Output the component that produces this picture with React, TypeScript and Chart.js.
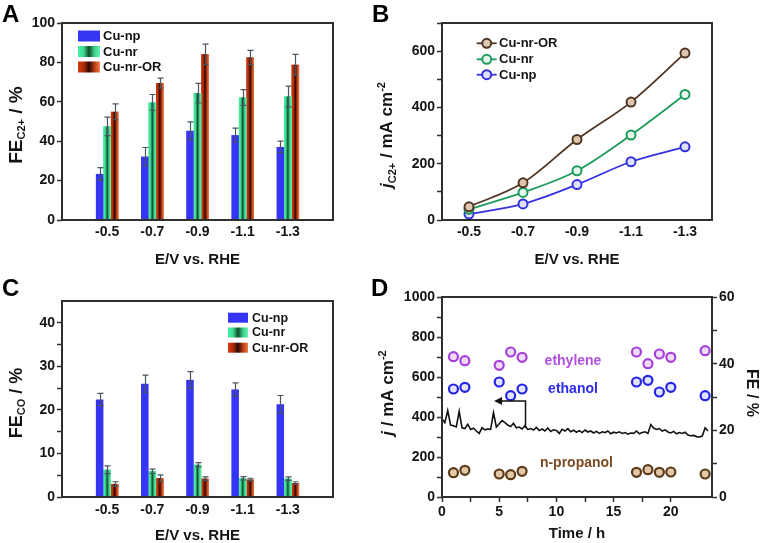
import React, { useEffect, useRef } from 'react';
import { Chart, registerables } from 'chart.js';

Chart.register(...registerables);

const FONT = '"Liberation Sans", Arial, Helvetica, sans-serif';
Chart.defaults.font.family = FONT;
Chart.defaults.color = '#141414';

const INK = '#141414';
const FRAME = '#2f2f2f';

// ---------- shared ----------
const seriesNames = ['Cu-np', 'Cu-nr', 'Cu-nr-OR'];
const potentials = ['-0.5', '-0.7', '-0.9', '-1.1', '-1.3'];
const barCategories = ['-0.3', '-0.5', '-0.7', '-0.9', '-1.1', '-1.3', '-1.5'];

// ---------- Panel A : FE C2+ ----------
const feC2Np = [23.4, 32.2, 45.3, 43.1, 37.1];
const feC2NpErr = [3.2, 4.6, 4.5, 3.5, 2.9];
const feC2Nr = [47.5, 59.7, 64.4, 62.2, 62.7];
const feC2NrErr = [4.7, 4.0, 5.0, 4.0, 5.3];
const feC2Or = [54.9, 69.5, 84.1, 82.5, 78.8];
const feC2OrErr = [4.0, 2.5, 5.2, 3.6, 5.3];

// ---------- Panel B : j C2+ ----------
const jC2Or = [47, 132, 286, 419, 593];
const jC2Nr = [38, 98, 175, 302, 446];
const jC2Np = [21, 57, 126, 207, 260];

// ---------- Panel C : FE CO ----------
const feCoNp = [22.4, 26.0, 26.9, 24.7, 21.3];
const feCoNpErr = [1.4, 2.0, 1.9, 1.5, 2.0];
const feCoNr = [6.25, 5.9, 7.4, 4.3, 4.2];
const feCoNrErr = [0.9, 0.5, 0.5, 0.4, 0.4];
const feCoOr = [3.0, 4.3, 4.2, 4.0, 3.2];
const feCoOrErr = [0.5, 0.8, 0.4, 0.3, 0.3];

// ---------- Panel D : stability ----------
const stabilityHours = [
  0, 0.25, 0.5, 0.75, 1, 1.25, 1.5, 1.75, 2, 2.25,
  2.5, 2.75, 3, 3.25, 3.5, 3.75, 4, 4.25, 4.5, 4.75,
  5, 5.25, 5.5, 5.75, 6, 6.25, 6.5, 6.75, 7, 7.25,
  7.5, 7.75, 8, 8.25, 8.5, 8.75, 9, 9.25, 9.5, 9.75,
  10, 10.25, 10.5, 10.75, 11, 11.25, 11.5, 11.75, 12, 12.25,
  12.5, 12.75, 13, 13.25, 13.5, 13.75, 14, 14.25, 14.5, 14.75,
  15, 15.25, 15.5, 15.75, 16, 16.25, 16.5, 16.75, 17, 17.25,
  17.5, 17.75, 18, 18.25, 18.5, 18.75, 19, 19.25, 19.5, 19.75,
  20, 20.25, 20.5, 20.75, 21, 21.25, 21.5, 21.75, 22, 22.25,
  22.5, 22.75, 23, 23.25,
];
const stabilityCurrent = [
  392, 372, 432, 360, 356, 350, 428, 346, 342, 364,
  338, 344, 330, 318, 346, 336, 340, 338, 422, 350,
  366, 382, 372, 360, 352, 368, 346, 350, 340, 356,
  338, 342, 335, 348, 332, 340, 330, 345, 328, 336,
  333, 318, 338, 330, 342, 326, 334, 324, 332, 322,
  335, 325, 330, 320, 328, 318, 326, 322, 330, 316,
  324, 320, 326, 318, 322, 314, 320, 318, 330, 316,
  322, 326, 318, 362, 345, 338, 342, 330, 336, 325,
  320, 328, 316, 322, 318, 324, 310, 306, 308, 302,
  300, 305, 346, 330,
];
const sampleHours = [1, 2, 5, 6, 7, 17, 18, 19, 20, 23];
const feEthylene = [42.1, 40.9, 39.5, 43.5, 41.9, 43.5, 40.0, 42.9, 41.9, 43.9];
const feEthanol = [32.4, 32.9, 34.5, 30.4, 32.4, 34.5, 35.0, 31.5, 32.9, 30.4];
const feNPropanol = [7.3, 8.0, 6.9, 6.7, 7.7, 7.4, 8.2, 7.4, 7.5, 6.9];
const productNames = ['ethylene', 'ethanol', 'n-propanol'];

// ---------- styles ----------
const NP_BLUE = '#3535f3';
const NR_STOPS = ['#48f0a4', '#3cdc92', '#124a2a', '#3cd08c', '#64f6b2'];
const OR_STOPS = ['#d03c10', '#b02c08', '#2a0804', '#b83a12', '#f28048'];
const barFills: (string | string[])[] = [NP_BLUE, NR_STOPS, OR_STOPS];

type Part = { t: string; size?: number; dy?: number; italic?: boolean };

function drawRich(
  ctx: CanvasRenderingContext2D,
  parts: Part[],
  x: number,
  y: number,
  rot: number,
  base: number,
  color = INK
) {
  ctx.save();
  ctx.translate(x, y);
  ctx.rotate(rot);
  ctx.fillStyle = color;
  ctx.textBaseline = 'alphabetic';
  ctx.textAlign = 'left';
  const fontOf = (p: Part) => `${p.italic ? 'italic ' : ''}bold ${p.size ?? base}px ${FONT}`;
  let w = 0;
  for (const p of parts) {
    ctx.font = fontOf(p);
    w += ctx.measureText(p.t).width;
  }
  let cx = -w / 2;
  for (const p of parts) {
    ctx.font = fontOf(p);
    ctx.fillText(p.t, cx, p.dy ?? 0);
    cx += ctx.measureText(p.t).width;
  }
  ctx.restore();
}

function drawLetter(ctx: CanvasRenderingContext2D, t: string, x: number, y: number) {
  ctx.save();
  ctx.font = `bold 24px ${FONT}`;
  ctx.fillStyle = '#000';
  ctx.textBaseline = 'alphabetic';
  ctx.textAlign = 'left';
  ctx.fillText(t, x, y);
  ctx.restore();
}

function drawFrame(chart: Chart) {
  const { ctx, chartArea: a } = chart;
  ctx.save();
  ctx.strokeStyle = FRAME;
  ctx.lineWidth = 2;
  ctx.strokeRect(a.left, a.top, a.right - a.left, a.bottom - a.top);
  ctx.restore();
}

function fillBox(ctx: CanvasRenderingContext2D, x: number, y: number, w: number, h: number, style: string | string[]) {
  if (Array.isArray(style)) {
    const g = ctx.createLinearGradient(x, 0, x + w, 0);
    style.forEach((c, k) => g.addColorStop(k / (style.length - 1), c));
    ctx.fillStyle = g;
  } else {
    ctx.fillStyle = style;
  }
  ctx.fillRect(x, y, w, h);
}

function drawLegendText(ctx: CanvasRenderingContext2D, t: string, x: number, y: number, size = 13) {
  ctx.save();
  ctx.font = `bold ${size}px ${FONT}`;
  ctx.fillStyle = INK;
  ctx.textBaseline = 'middle';
  ctx.textAlign = 'left';
  ctx.fillText(t, x, y);
  ctx.restore();
}

const tickFont = (size = 14) => ({ size, weight: 'bold' as const, family: FONT });
const majorOnly = (major: number) => (v: any) => {
  const n = Number(v);
  return Math.abs(n / major - Math.round(n / major)) < 1e-6 ? String(n) : '';
};
const pad = (arr: number[]) => [null, ...arr, null];

const gradientBars = {
  id: 'gradientBars',
  afterDatasetDraw(chart: any, args: any) {
    const ds = chart.data.datasets[args.index];
    if (!ds.gradientStops) return;
    const ctx = chart.ctx as CanvasRenderingContext2D;
    ctx.save();
    args.meta.data.forEach((el: any, i: number) => {
      if (ds.data[i] == null) return;
      const { x, y, base, width } = el.getProps(['x', 'y', 'base', 'width'], true);
      fillBox(ctx, x - width / 2, Math.min(y, base), width, Math.abs(base - y), ds.gradientStops);
    });
    ctx.restore();
  },
};

const errorBars = {
  id: 'errorBars',
  afterDatasetsDraw(chart: any) {
    const ctx = chart.ctx as CanvasRenderingContext2D;
    const ys = chart.scales.y;
    chart.data.datasets.forEach((ds: any, di: number) => {
      if (!ds.errors) return;
      const meta = chart.getDatasetMeta(di);
      meta.data.forEach((el: any, i: number) => {
        const v = ds.data[i];
        const e = ds.errors[i];
        if (v == null || e == null) return;
        const x = Math.round(el.x) + 0.5;
        const yt = ys.getPixelForValue(v + e);
        const yb = ys.getPixelForValue(v - e);
        ctx.save();
        ctx.strokeStyle = '#4b5560';
        ctx.lineWidth = 1.2;
        ctx.beginPath();
        ctx.moveTo(x, yt);
        ctx.lineTo(x, yb);
        ctx.moveTo(x - 3, yt);
        ctx.lineTo(x + 3, yt);
        ctx.moveTo(x - 3, yb);
        ctx.lineTo(x + 3, yb);
        ctx.stroke();
        ctx.restore();
      });
    });
  },
};

function makeBarChart(
  canvas: HTMLCanvasElement,
  series: { data: number[]; err: number[] }[],
  yMax: number,
  minor: number,
  major: number,
  yLabelMax: number,
  yTop: number,
  xHeight: number,
  xPad: number,
  decor: (chart: Chart) => void
) {
  return new Chart(canvas, {
    type: 'bar',
    data: {
      labels: barCategories,
      datasets: series.map((s, k) => ({
        label: seriesNames[k],
        data: pad(s.data),
        errors: pad(s.err),
        gradientStops: Array.isArray(barFills[k]) ? barFills[k] : undefined,
        backgroundColor: Array.isArray(barFills[k]) ? (barFills[k] as string[])[1] : (barFills[k] as string),
        borderWidth: 0,
        categoryPercentage: 0.5,
        barPercentage: 1,
      })) as any,
    },
    options: {
      responsive: false,
      animation: false,
      events: [],
      layout: { padding: { left: 0, right: 35, top: yTop, bottom: 0 } },
      plugins: { legend: { display: false }, tooltip: { enabled: false } },
      scales: {
        x: {
          offset: false,
          grid: { display: false, drawTicks: false, offset: false },
          border: { display: false },
          ticks: {
            autoSkip: false,
            maxRotation: 0,
            padding: xPad,
            font: tickFont(14),
            color: INK,
            callback: (_v: any, i: number) =>
              potentials.includes(barCategories[i]) ? barCategories[i] : '',
          },
          afterFit: (s: any) => {
            s.height = xHeight;
          },
        },
        y: {
          min: 0,
          max: yMax,
          grid: { drawOnChartArea: false, tickLength: 5, tickColor: FRAME, tickWidth: 1.5 },
          border: { display: false },
          ticks: { stepSize: minor, padding: 2, font: tickFont(14), color: INK, callback: majorOnly(major) },
          afterBuildTicks: (s: any) => {
            s.ticks = s.ticks.filter((t: any) => t.value <= yLabelMax + 1e-6);
          },
          afterFit: (s: any) => {
            s.width = 62;
          },
        },
      } as any,
    },
    plugins: [gradientBars, errorBars, { id: 'decor', afterDraw: decor }],
  });
}

function barLegend(ctx: CanvasRenderingContext2D, x: number, rows: number[], w: number, h: number, textX: number, size: number) {
  seriesNames.forEach((name, k) => {
    fillBox(ctx, x, rows[k] - h / 2, w, h, barFills[k]);
    drawLegendText(ctx, name, textX, rows[k] + 0.5, size);
  });
}

function buildA(canvas: HTMLCanvasElement) {
  return makeBarChart(
    canvas,
    [
      { data: feC2Np, err: feC2NpErr },
      { data: feC2Nr, err: feC2NrErr },
      { data: feC2Or, err: feC2OrErr },
    ],
    100, 10, 20, 100, 23, 50, 4,
    (chart) => {
      const ctx = chart.ctx;
      const a = chart.chartArea;
      drawFrame(chart);
      drawLetter(ctx, 'A', 2, 22);
      drawRich(ctx, [{ t: 'E/V vs. RHE' }], (a.left + a.right) / 2, 264, 0, 15);
      drawRich(ctx, [{ t: 'FE' }, { t: 'C2+', size: 11, dy: 3 }, { t: ' / %' }], 22, 125, -Math.PI / 2, 19);
      barLegend(ctx, 78, [36, 51.5, 67], 22, 11, 103, 13);
    }
  );
}

function buildC(canvas: HTMLCanvasElement) {
  return makeBarChart(
    canvas,
    [
      { data: feCoNp, err: feCoNpErr },
      { data: feCoNr, err: feCoNrErr },
      { data: feCoOr, err: feCoOrErr },
    ],
    45, 5, 10, 40, 31, 46, 5,
    (chart) => {
      const ctx = chart.ctx;
      const a = chart.chartArea;
      drawFrame(chart);
      drawLetter(ctx, 'C', 2, 26);
      drawRich(ctx, [{ t: 'E/V vs. RHE' }], (a.left + a.right) / 2, 270, 0, 15);
      drawRich(ctx, [{ t: 'FE' }, { t: 'CO', size: 11, dy: 3 }, { t: ' / %' }], 22, 133, -Math.PI / 2, 18);
      barLegend(ctx, 228, [47.7, 62.5, 77.7], 20, 10, 252, 12.5);
    }
  );
}

const lineStyles = [
  { line: '#503622', fill: '#dcc6b0' },
  { line: '#1e9c5c', fill: '#e6f8ee' },
  { line: '#3232e0', fill: '#e0e0ff' },
];
const lineSeries = [
  { name: seriesNames[2], data: jC2Or },
  { name: seriesNames[1], data: jC2Nr },
  { name: seriesNames[0], data: jC2Np },
];

function buildB(canvas: HTMLCanvasElement) {
  return new Chart(canvas, {
    type: 'line',
    data: {
      labels: potentials,
      datasets: lineSeries.map((s, k) => ({
        label: s.name,
        data: s.data,
        borderColor: lineStyles[k].line,
        borderWidth: 1.8,
        pointBackgroundColor: lineStyles[k].fill,
        pointBorderColor: lineStyles[k].line,
        pointBorderWidth: 2,
        pointRadius: 4.5,
        cubicInterpolationMode: 'monotone' as const,
      })),
    },
    options: {
      responsive: false,
      animation: false,
      events: [],
      layout: { padding: { left: 0, right: 49, top: 23, bottom: 0 } },
      plugins: { legend: { display: false }, tooltip: { enabled: false } },
      scales: {
        x: {
          offset: true,
          grid: { display: false, drawTicks: false },
          border: { display: false },
          ticks: { autoSkip: false, maxRotation: 0, padding: 4, font: tickFont(14), color: INK },
          afterFit: (s: any) => {
            s.height = 50;
          },
        },
        y: {
          min: 0,
          max: 700,
          grid: { drawOnChartArea: false, tickLength: 5, tickColor: FRAME, tickWidth: 1.5 },
          border: { display: false },
          ticks: { stepSize: 100, padding: 2, font: tickFont(14), color: INK, callback: majorOnly(200) },
          afterFit: (s: any) => {
            s.width = 74;
          },
        },
      } as any,
    },
    plugins: [
      {
        id: 'decor',
        afterDraw(chart: Chart) {
          const ctx = chart.ctx;
          const a = chart.chartArea;
          drawFrame(chart);
          drawLetter(ctx, 'B', 4, 22);
          drawRich(ctx, [{ t: 'E/V vs. RHE' }], (a.left + a.right) / 2, 264, 0, 15);
          drawRich(
            ctx,
            [{ t: 'j', italic: true }, { t: 'C2+', size: 11, dy: 4 }, { t: ' / mA cm' }, { t: '-2', size: 11, dy: -7 }],
            24, 135, -Math.PI / 2, 17
          );
          const rows = [43.3, 59.3, 74.7];
          lineSeries.forEach((s, k) => {
            ctx.save();
            ctx.strokeStyle = lineStyles[k].line;
            ctx.lineWidth = 1.8;
            ctx.beginPath();
            ctx.moveTo(108.7, rows[k]);
            ctx.lineTo(128.7, rows[k]);
            ctx.stroke();
            ctx.beginPath();
            ctx.arc(118.7, rows[k], 4.5, 0, Math.PI * 2);
            ctx.fillStyle = lineStyles[k].fill;
            ctx.fill();
            ctx.lineWidth = 2;
            ctx.stroke();
            ctx.restore();
            drawLegendText(ctx, s.name, 131, rows[k] + 0.5, 13);
          });
        },
      },
    ],
  });
}

const productStyles = [
  { border: '#a640da', fill: '#f0dcfa', text: '#b150e0' },
  { border: '#2424e6', fill: '#e2e4ff', text: '#2a2aec' },
  { border: '#5c3a1a', fill: '#e2c8a6', text: '#7a4a22' },
];
const productSeries = [feEthylene, feEthanol, feNPropanol];
const productLabelAt = [
  { x: 11.45, y: 40.9 },
  { x: 11.45, y: 32.4 },
  { x: 11.75, y: 10.2 },
];

function buildD(canvas: HTMLCanvasElement) {
  return new Chart(canvas, {
    type: 'scatter',
    data: {
      datasets: [
        {
          label: 'j',
          data: stabilityHours.map((h, i) => ({ x: h, y: stabilityCurrent[i] })),
          showLine: true,
          borderColor: '#111111',
          borderWidth: 1.6,
          pointRadius: 0,
          yAxisID: 'y',
        },
        ...productSeries.map((vals, k) => ({
          label: productNames[k],
          data: sampleHours.map((h, i) => ({ x: h, y: vals[i] })),
          yAxisID: 'y2',
          pointRadius: 4.5,
          pointBorderWidth: 2.2,
          pointBackgroundColor: productStyles[k].fill,
          pointBorderColor: productStyles[k].border,
        })),
      ] as any,
    },
    options: {
      responsive: false,
      animation: false,
      events: [],
      layout: { padding: { left: 0, right: 0, top: 27, bottom: 0 } },
      plugins: { legend: { display: false }, tooltip: { enabled: false } },
      scales: {
        x: {
          type: 'linear',
          position: 'bottom',
          min: 0,
          max: 23.6,
          grid: { drawOnChartArea: false, tickLength: 5, tickColor: FRAME, tickWidth: 1.5 },
          border: { display: false },
          ticks: { stepSize: 2.5, autoSkip: false, maxRotation: 0, padding: 2, font: tickFont(14), color: INK, callback: majorOnly(5) },
          afterBuildTicks: (s: any) => {
            s.ticks = s.ticks.filter((t: any) => Math.abs(t.value / 2.5 - Math.round(t.value / 2.5)) < 1e-6);
          },
          afterFit: (s: any) => {
            s.height = 46;
          },
        },
        y: {
          position: 'left',
          min: 0,
          max: 1000,
          grid: { drawOnChartArea: false, tickLength: 5, tickColor: FRAME, tickWidth: 1.5 },
          border: { display: false },
          ticks: { stepSize: 100, padding: 2, font: tickFont(14), color: INK, callback: majorOnly(200) },
          afterFit: (s: any) => {
            s.width = 74;
          },
        },
        y2: {
          position: 'right',
          min: 0,
          max: 60,
          grid: { drawOnChartArea: false, tickLength: 5, tickColor: FRAME, tickWidth: 1.5 },
          border: { display: false },
          ticks: { stepSize: 10, padding: 2, font: tickFont(14), color: INK, callback: majorOnly(20) },
          afterFit: (s: any) => {
            s.width = 49;
          },
        },
      } as any,
    },
    plugins: [
      {
        id: 'decor',
        afterDraw(chart: any) {
          const ctx = chart.ctx as CanvasRenderingContext2D;
          const a = chart.chartArea;
          const xs = chart.scales.x;
          const ys = chart.scales.y;
          const y2 = chart.scales.y2;
          drawFrame(chart);
          drawLetter(ctx, 'D', 3, 26);
          drawRich(ctx, [{ t: 'Time / h' }], (a.left + a.right) / 2, 268, 0, 15);
          drawRich(ctx, [{ t: 'j', italic: true }, { t: ' / mA cm' }, { t: '-2', size: 11, dy: -7 }], 25, 123, -Math.PI / 2, 17);
          drawRich(ctx, [{ t: 'FE / %' }], 379, 123, Math.PI / 2, 16);
          productNames.forEach((name, k) => {
            ctx.save();
            ctx.font = `bold 14px ${FONT}`;
            ctx.fillStyle = productStyles[k].text;
            ctx.textAlign = 'center';
            ctx.textBaseline = 'middle';
            ctx.fillText(name, xs.getPixelForValue(productLabelAt[k].x), y2.getPixelForValue(productLabelAt[k].y));
            ctx.restore();
          });
          // arrow pointing to the left axis
          const x1 = xs.getPixelForValue(7.3);
          const x2 = xs.getPixelForValue(4.55);
          const yA = ys.getPixelForValue(345);
          const yB = ys.getPixelForValue(480);
          ctx.save();
          ctx.strokeStyle = '#111';
          ctx.fillStyle = '#111';
          ctx.lineWidth = 1.5;
          ctx.beginPath();
          ctx.moveTo(x1, yA);
          ctx.lineTo(x1, yB);
          ctx.lineTo(x2 + 5, yB);
          ctx.stroke();
          ctx.beginPath();
          ctx.moveTo(x2, yB);
          ctx.lineTo(x2 + 8, yB - 4);
          ctx.lineTo(x2 + 8, yB + 4);
          ctx.closePath();
          ctx.fill();
          ctx.restore();
        },
      },
    ],
  });
}

function Panel(props: {
  left: number;
  top: number;
  width: number;
  height: number;
  build: (c: HTMLCanvasElement) => Chart;
}) {
  const ref = useRef<HTMLCanvasElement>(null);
  useEffect(() => {
    const chart = props.build(ref.current!);
    return () => chart.destroy();
  }, []);
  return (
    <canvas
      ref={ref}
      width={props.width}
      height={props.height}
      style={{ position: 'absolute', left: props.left, top: props.top, width: props.width, height: props.height }}
    />
  );
}

export default function App() {
  return (
    <div
      style={{
        position: 'absolute',
        left: 0,
        top: 0,
        width: 761,
        height: 543,
        background: '#ffffff',
        overflow: 'hidden',
      }}
    >
      <Panel left={0} top={0} width={368} height={270} build={buildA} />
      <Panel left={368} top={0} width={393} height={270} build={buildB} />
      <Panel left={0} top={270} width={368} height={273} build={buildC} />
      <Panel left={368} top={270} width={393} height={273} build={buildD} />
    </div>
  );
}
